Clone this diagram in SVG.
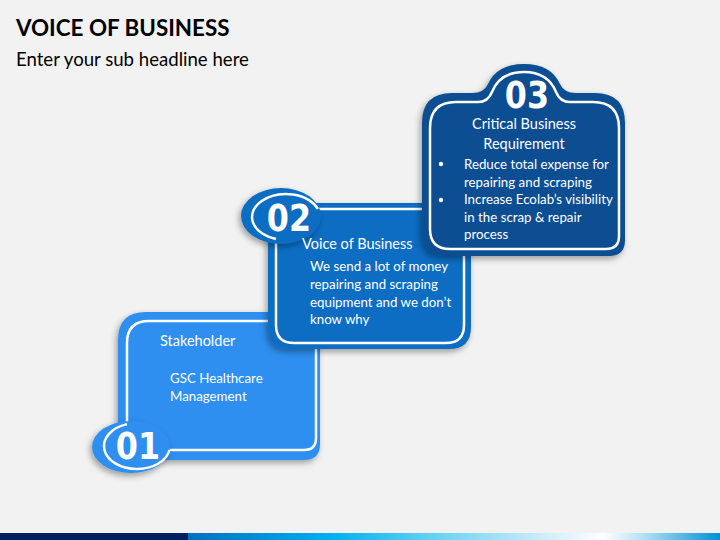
<svg xmlns="http://www.w3.org/2000/svg" width="720" height="540" viewBox="0 0 720 540">
<defs>
<style>
.t{font-family:Lato,"Open Sans","Liberation Sans",sans-serif;fill:#ffffff}
.h{font-size:14.5px}
.b{font-size:13.3px}
.num{font-family:"DejaVu Sans","Liberation Sans",sans-serif;font-weight:bold;font-size:37px;fill:#ffffff;text-anchor:middle}
.ln{fill:none;stroke:#ffffff;stroke-width:2.5}
</style>
<filter id="sh" x="-20%" y="-20%" width="140%" height="140%">
<feDropShadow dx="-2" dy="3" stdDeviation="3" flood-color="#000000" flood-opacity="0.35"/>
</filter>
<linearGradient id="bar" x1="0" y1="0" x2="1" y2="0">
<stop offset="0" stop-color="#0070c0"/>
<stop offset="0.27" stop-color="#00b0f0"/>
<stop offset="0.45" stop-color="#5fd0f5"/>
<stop offset="0.66" stop-color="#c8ecfa"/>
<stop offset="0.78" stop-color="#ffffff"/>
<stop offset="0.85" stop-color="#b8e4f7"/>
<stop offset="1" stop-color="#0090d8"/>
</linearGradient>
</defs>
<rect width="720" height="540" fill="#f2f2f2"/>
<text x="16" y="36" style="font-family:Lato,'Liberation Sans',sans-serif;font-weight:bold;font-size:22.4px;fill:#000">VOICE OF BUSINESS</text>
<text x="16" y="66" style="font-family:Lato,'Liberation Sans',sans-serif;font-size:18.6px;fill:#000">Enter your sub headline here</text>

<g id="node1">
<path filter="url(#sh)" fill="#2e8ff0" d="M146 312 H302 Q320 312 320 330 V444 Q320 460 304 460 H134 Q118 460 118 444 V340 Q118 312 146 312 Z"/>
<path class="ln" d="M149 321 H301 Q316 321 316 336 V438 Q316 450 304 450 H139 Q127 450 127 438 V343 Q127 321 149 321 Z"/>
<ellipse filter="url(#sh)" cx="131" cy="447" rx="39" ry="26" fill="#2e8ff0"/>
<path class="ln" d="M127 424.1 A33 23 0 1 0 169.5 450"/>
<text class="num" transform="translate(138 459) scale(0.86 1)">01</text>
<text class="t h" x="160" y="346">Stakeholder</text>
<text class="t b" x="170" y="383">GSC Healthcare</text>
<text class="t b" x="170" y="401">Management</text>
</g>

<g id="node2">
<path filter="url(#sh)" fill="#0b6dc3" d="M288 203 H455 Q471 203 471 219 V327 Q471 349 449 349 H290 Q268 349 268 327 V223 Q268 203 288 203 Z"/>
<path class="ln" d="M294 209 H448 Q464 209 464 225 V325 Q464 343 446 343 H294 Q276 343 276 325 V227 Q276 209 294 209 Z"/>
<ellipse filter="url(#sh)" cx="281" cy="216" rx="40" ry="28" fill="#0b6dc3"/>
<path class="ln" d="M276 239 A34 23 0 1 1 317.9 209"/>
<text class="num" transform="translate(289 231) scale(0.86 1)">02</text>
<text class="t h" x="302" y="249">Voice of Business</text>
<text class="t b" x="310" y="271">We send a lot of money</text>
<text class="t b" x="310" y="289">repairing and scraping</text>
<text class="t b" x="310" y="307">equipment and we don’t</text>
<text class="t b" x="310" y="324">know why</text>
</g>

<g id="node3">
<path filter="url(#sh)" fill="#0e4d92" d="M452 93 H472 Q484 93 488 84 Q497 64 524 64 Q551 64 560 84 Q564 93 576 93 H595 Q625 93 625 123 V240 Q625 256 609 256 H446 Q422 256 422 232 V123 Q422 93 452 93 Z"/>
<path class="ln" d="M456 102 H478 Q488 102 492 92 Q500 72 524 72 Q548 72 556 92 Q560 102 570 102 H593 Q619 102 619 128 V236 Q619 249 606 249 H450 Q430 249 430 229 V128 Q430 102 456 102 Z"/>
<text class="num" transform="translate(527 108) scale(0.86 1.02)">03</text>
<text class="t h" x="524" y="129" text-anchor="middle">Critical Business</text>
<text class="t h" x="524" y="149" text-anchor="middle">Requirement</text>
<circle cx="441" cy="164" r="2.2" fill="#fff"/>
<circle cx="441" cy="200" r="2.2" fill="#fff"/>
<text class="t b" x="464" y="169">Reduce total expense for</text>
<text class="t b" x="464" y="187">repairing and scraping</text>
<text class="t b" x="464" y="204">Increase Ecolab’s visibility</text>
<text class="t b" x="464" y="222">in the scrap &amp; repair</text>
<text class="t b" x="464" y="239">process</text>
</g>

<g id="connectors"/>

<rect x="0" y="533" width="188" height="7" fill="#002060"/>
<rect x="188" y="533" width="532" height="7" fill="url(#bar)"/>
</svg>
